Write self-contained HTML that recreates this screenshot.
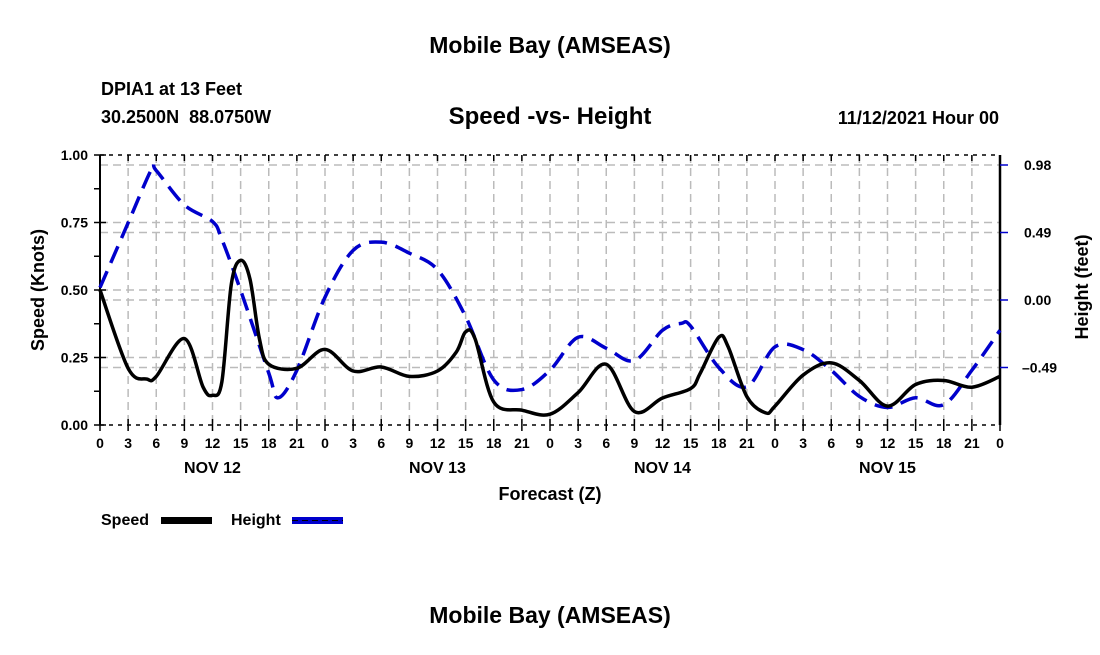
<!DOCTYPE html>
<html><head><meta charset="utf-8"><style>
body{margin:0;background:#fff;}
svg text{font-family:"Liberation Sans",sans-serif;font-weight:bold;fill:#000;}
</style></head><body>
<svg id="c" width="1100" height="650" xmlns="http://www.w3.org/2000/svg">
<text x="550" y="53" font-size="23" text-anchor="middle">Mobile Bay (AMSEAS)</text>
<text x="101" y="95" font-size="18">DPIA1 at 13 Feet</text>
<text x="101" y="123" font-size="18" xml:space="preserve" style="white-space:pre">30.2500N  88.0750W</text>
<text x="550" y="124" font-size="24" text-anchor="middle">Speed -vs- Height</text>
<text x="999" y="124" font-size="18" text-anchor="end">11/12/2021 Hour 00</text>
<text x="550" y="500" font-size="18" text-anchor="middle">Forecast (Z)</text>
<text transform="translate(44,290) rotate(-90)" font-size="18" text-anchor="middle">Speed (Knots)</text>
<text transform="translate(1088,287) rotate(-90)" font-size="18" text-anchor="middle">Height (feet)</text>
<g id="grid"></g><g id="axes"></g><g id="series"></g>
<g>
<text x="101" y="525" font-size="16">Speed</text>
<rect x="161" y="517" width="51" height="7" fill="#000"/>
<text x="231" y="525" font-size="16">Height</text>
<rect x="292" y="517" width="51" height="7" fill="#0000cc"/>
<line x1="292" y1="520.5" x2="343" y2="520.5" stroke="#000" stroke-width="1" stroke-dasharray="6,4"/>
</g>
<text x="550" y="623" font-size="23" text-anchor="middle">Mobile Bay (AMSEAS)</text>
</svg>
<script>
const hours=[0,3,5,6,9,11,12,13,14,15,16,17,18,21,24,27,30,33,36,38,39,40,42,45,48,51,54,57,60,63,64,66,67,69,71,72,75,78,81,84,87,90,93,96];
const speed=[0.50,0.21,0.17,0.18,0.32,0.14,0.11,0.16,0.52,0.61,0.54,0.32,0.225,0.21,0.28,0.20,0.215,0.18,0.20,0.27,0.345,0.32,0.085,0.055,0.04,0.12,0.225,0.05,0.10,0.135,0.19,0.325,0.29,0.105,0.045,0.07,0.185,0.23,0.165,0.07,0.15,0.165,0.14,0.18];
const hHours=[0,3,5.5,6,9,12,13,15,18,19,21,24,27,30,33,36,39,42,45,48,51,54,57,60,62,63,66,69,72,75,78,81,84,87,90,93,96];
const height=[0.09,0.56,0.95,0.94,0.69,0.57,0.44,0.07,-0.53,-0.71,-0.51,0.02,0.36,0.42,0.34,0.22,-0.12,-0.58,-0.65,-0.51,-0.27,-0.35,-0.44,-0.22,-0.17,-0.19,-0.49,-0.63,-0.34,-0.36,-0.51,-0.70,-0.78,-0.71,-0.76,-0.51,-0.22];
const xTicks=["0","3","6","9","12","15","18","21"];
const days=["NOV 12","NOV 13","NOV 14","NOV 15"];
const leftTicks=[0,0.25,0.5,0.75,1.0];
const rightTicks=[0.98,0.49,0,-0.49];
const L=100,R=1000,T=155,B=425;
const x=h=>L+h*(R-L)/96;
const yS=v=>B-v*(B-T);
const yH=v=>300-v*67.5/0.49;
const NS="http://www.w3.org/2000/svg";
function mk(p,tag,attrs){const e=document.createElementNS(NS,tag);for(const k in attrs)e.setAttribute(k,attrs[k]);p.appendChild(e);return e;}
const grid=document.getElementById('grid'),axes=document.getElementById('axes'),ser=document.getElementById('series');
for(let h=3;h<96;h+=3){const g=mk(grid,'line',{x1:x(h),x2:x(h),y1:T,y2:B,stroke:'#bbb','stroke-width':1.5,'stroke-dasharray':'8,5'});

}
[0.25,0.5,0.75].forEach(v=>{const g=mk(grid,'line',{x1:L,x2:R,y1:yS(v),y2:yS(v),stroke:'#bbb','stroke-width':1.5,'stroke-dasharray':'8,5'});

});
rightTicks.forEach(v=>{const g=mk(grid,'line',{x1:L,x2:R,y1:yH(v),y2:yH(v),stroke:'#bbb','stroke-width':1.5,'stroke-dasharray':'8,5'});

});
let a=mk(axes,'line',{x1:L,x2:L,y1:T,y2:B,stroke:'#000','stroke-width':2});

a=mk(axes,'line',{x1:R,x2:R,y1:T,y2:B,stroke:'#000','stroke-width':2.5});

a=mk(axes,'line',{x1:L,x2:R,y1:T,y2:T,stroke:'#000','stroke-width':1.5,'stroke-dasharray':'4,5'});

a=mk(axes,'line',{x1:L,x2:R,y1:B,y2:B,stroke:'#000','stroke-width':1.5,'stroke-dasharray':'4,5'});

for(let h=0;h<=96;h+=3){
 let t=mk(axes,'line',{x1:x(h),x2:x(h),y1:B-6,y2:B+6,stroke:'#000','stroke-width':1.5});
 
 t=mk(axes,'line',{x1:x(h),x2:x(h),y1:T,y2:T+6,stroke:'#000','stroke-width':1.5});
 
 const lb=mk(axes,'text',{x:x(h),y:B+23,'font-size':14,'text-anchor':'middle'});
 lb.textContent=h===96?"0":xTicks[(h/3)%8];
 
}
days.forEach((d,i)=>{const t=mk(axes,'text',{x:x(i*24+12),y:B+48,'font-size':16,'text-anchor':'middle'});t.textContent=d;
});
for(let v=0;v<=1.0001;v+=0.125){const t=mk(axes,'line',{x1:L-6,x2:L+(Math.abs(v*4-Math.round(v*4))<0.01?6:0),y1:yS(v),y2:yS(v),stroke:'#000','stroke-width':1.5});
}
leftTicks.forEach(v=>{const t=mk(axes,'text',{x:L-12,y:yS(v)+5,'font-size':14,'text-anchor':'end'});t.textContent=v.toFixed(2);
});
rightTicks.forEach(v=>{const t=mk(axes,'line',{x1:R,x2:R+8,y1:yH(v),y2:yH(v),stroke:'#0000cc','stroke-width':1.5});

const lb=mk(axes,'text',{x:v<0?R+22:R+24,y:yH(v)+5,'font-size':14});lb.textContent=v.toFixed(2).replace('-','–');
});
function smooth(px){let d=`M${px[0][0]},${px[0][1]}`;for(let i=0;i<px.length-1;i++){const p0=px[Math.max(0,i-1)],p1=px[i],p2=px[i+1],p3=px[Math.min(px.length-1,i+2)];
d+=` C${p1[0]+(p2[0]-p0[0])/6},${p1[1]+(p2[1]-p0[1])/6} ${p2[0]-(p3[0]-p1[0])/6},${p2[1]-(p3[1]-p1[1])/6} ${p2[0]},${p2[1]}`;}return d;}
let p=mk(ser,'path',{d:smooth(hHours.map((h,i)=>[x(h),yH(height[i])])),fill:'none',stroke:'#0000cc','stroke-width':3.5,'stroke-dasharray':'18,9'});

p=mk(ser,'path',{d:smooth(hours.map((h,i)=>[x(h),yS(speed[i])])),fill:'none',stroke:'#000','stroke-width':3.5});

</script>
</body></html>
